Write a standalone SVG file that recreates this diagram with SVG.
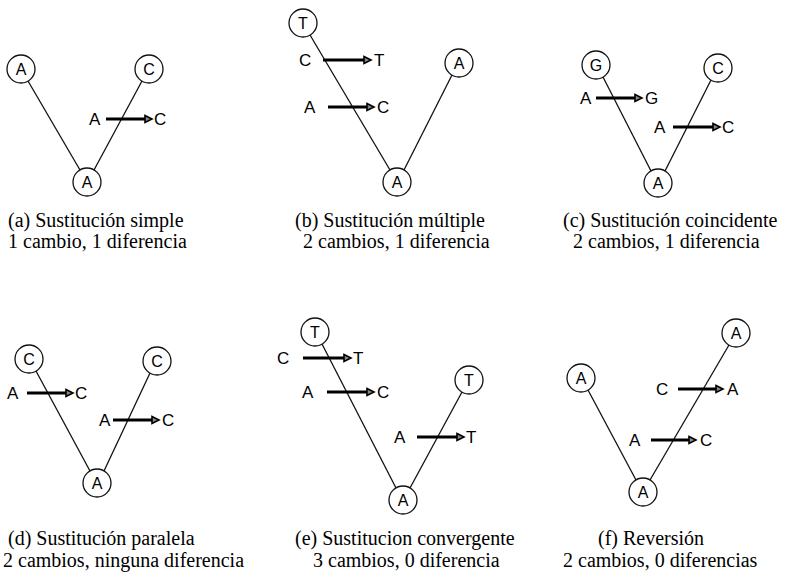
<svg xmlns="http://www.w3.org/2000/svg" width="785" height="573" viewBox="0 0 785 573">
<defs>
<marker id="ah" markerUnits="userSpaceOnUse" markerWidth="10" markerHeight="10" refX="1" refY="4.5" orient="auto" overflow="visible">
<path d="M1,1 L8,4.5 L1,8 Z" fill="#888" stroke="#000" stroke-width="1.6" stroke-linejoin="miter"/>
</marker>
</defs>
<style>
.n{fill:#fff;stroke:#111;stroke-width:1.3}
.nt{font-family:"Liberation Sans",Arial,sans-serif;font-size:16px;text-anchor:middle;fill:#000}
.b{stroke:#111;stroke-width:1.3;fill:none}
.ar{stroke:#000;stroke-width:3;fill:none;marker-end:url(#ah)}
.al{font-family:"Liberation Sans",Arial,sans-serif;font-size:17px;fill:#000}
.cap{font-family:"Liberation Serif","Times New Roman",serif;font-size:20px;fill:#000}
</style>
<rect width="785" height="573" fill="#fff"/>
<g id="connectors">
<line class="b" x1="28" y1="81" x2="80" y2="170"/>
<line class="b" x1="142" y1="81" x2="94" y2="170"/>
<line class="b" x1="310" y1="35" x2="390" y2="170"/>
<line class="b" x1="452" y1="75" x2="404" y2="170"/>
<line class="b" x1="603" y1="77" x2="651" y2="171"/>
<line class="b" x1="711" y1="80" x2="665" y2="171"/>
<line class="b" x1="36" y1="371" x2="90" y2="471"/>
<line class="b" x1="150" y1="373" x2="104" y2="471"/>
<line class="b" x1="322" y1="344" x2="396" y2="488"/>
<line class="b" x1="462" y1="392" x2="410" y2="488"/>
<line class="b" x1="588" y1="390" x2="636" y2="480"/>
<line class="b" x1="729" y1="345" x2="650" y2="480"/>
</g>
<g id="mutations">
<text class="al" x="89" y="125">A</text><line class="ar" x1="106" y1="119" x2="145" y2="119"/><text class="al" x="154" y="125">C</text>
<text class="al" x="299" y="66">C</text><line class="ar" x1="323" y1="60" x2="364" y2="60"/><text class="al" x="374" y="66">T</text>
<text class="al" x="304" y="113">A</text><line class="ar" x1="328" y1="107" x2="367" y2="107"/><text class="al" x="377" y="113">C</text>
<text class="al" x="580" y="104">A</text><line class="ar" x1="596" y1="98" x2="635" y2="98"/><text class="al" x="645" y="104">G</text>
<text class="al" x="654" y="133">A</text><line class="ar" x1="673" y1="127" x2="713" y2="127"/><text class="al" x="722" y="133">C</text>
<text class="al" x="7" y="399">A</text><line class="ar" x1="27" y1="393" x2="66" y2="393"/><text class="al" x="75" y="399">C</text>
<text class="al" x="99" y="426">A</text><line class="ar" x1="113" y1="420" x2="152" y2="420"/><text class="al" x="162" y="426">C</text>
<text class="al" x="277" y="364">C</text><line class="ar" x1="303" y1="358" x2="344" y2="358"/><text class="al" x="353" y="364">T</text>
<text class="al" x="302" y="398">A</text><line class="ar" x1="327" y1="392" x2="367" y2="392"/><text class="al" x="377" y="398">C</text>
<text class="al" x="394" y="443">A</text><line class="ar" x1="417" y1="437" x2="457" y2="437"/><text class="al" x="466" y="443">T</text>
<text class="al" x="656" y="395">C</text><line class="ar" x1="678" y1="389" x2="716" y2="389"/><text class="al" x="727" y="395">A</text>
<text class="al" x="629" y="446">A</text><line class="ar" x1="651" y1="440" x2="689" y2="440"/><text class="al" x="700" y="446">C</text>
</g>
<g id="a-left"><circle class="n" cx="21" cy="69" r="14"/><text class="nt" x="21" y="75">A</text></g>
<g id="a-right"><circle class="n" cx="149" cy="69" r="14"/><text class="nt" x="149" y="75">C</text></g>
<g id="a-root"><circle class="n" cx="87" cy="182" r="14"/><text class="nt" x="87" y="188">A</text></g>
<g id="b-left"><circle class="n" cx="303" cy="23" r="14"/><text class="nt" x="303" y="29">T</text></g>
<g id="b-right"><circle class="n" cx="459" cy="63" r="14"/><text class="nt" x="459" y="69">A</text></g>
<g id="b-root"><circle class="n" cx="397" cy="182" r="14"/><text class="nt" x="397" y="188">A</text></g>
<g id="c-left"><circle class="n" cx="596" cy="65" r="14"/><text class="nt" x="596" y="71">G</text></g>
<g id="c-right"><circle class="n" cx="718" cy="68" r="14"/><text class="nt" x="718" y="74">C</text></g>
<g id="c-root"><circle class="n" cx="658" cy="183" r="14"/><text class="nt" x="658" y="189">A</text></g>
<g id="d-left"><circle class="n" cx="29" cy="359" r="14"/><text class="nt" x="29" y="365">C</text></g>
<g id="d-right"><circle class="n" cx="157" cy="361" r="14"/><text class="nt" x="157" y="367">C</text></g>
<g id="d-root"><circle class="n" cx="97" cy="483" r="14"/><text class="nt" x="97" y="489">A</text></g>
<g id="e-left"><circle class="n" cx="315" cy="332" r="14"/><text class="nt" x="315" y="338">T</text></g>
<g id="e-right"><circle class="n" cx="469" cy="380" r="14"/><text class="nt" x="469" y="386">T</text></g>
<g id="e-root"><circle class="n" cx="403" cy="500" r="14"/><text class="nt" x="403" y="506">A</text></g>
<g id="f-right"><circle class="n" cx="736" cy="333" r="14"/><text class="nt" x="736" y="339">A</text></g>
<g id="f-left"><circle class="n" cx="581" cy="378" r="14"/><text class="nt" x="581" y="384">A</text></g>
<g id="f-root"><circle class="n" cx="643" cy="492" r="14"/><text class="nt" x="643" y="498">A</text></g>
<g id="captions">
<text class="cap" x="8" y="227">(a) Sustitución simple</text>
<text class="cap" x="8" y="248">1 cambio, 1 diferencia</text>
<text class="cap" x="295" y="227">(b) Sustitución múltiple</text>
<text class="cap" x="303" y="248">2 cambios, 1 diferencia</text>
<text class="cap" x="563" y="227">(c) Sustitución coincidente</text>
<text class="cap" x="573" y="248">2 cambios, 1 diferencia</text>
<text class="cap" x="8" y="545">(d) Sustitución paralela</text>
<text class="cap" x="3" y="567">2 cambios, ninguna diferencia</text>
<text class="cap" x="295" y="545">(e) Sustitucion convergente</text>
<text class="cap" x="313" y="567">3 cambios, 0 diferencia</text>
<text class="cap" x="598" y="545">(f) Reversión</text>
<text class="cap" x="563" y="567">2 cambios, 0 diferencias</text>
</g>
</svg>
